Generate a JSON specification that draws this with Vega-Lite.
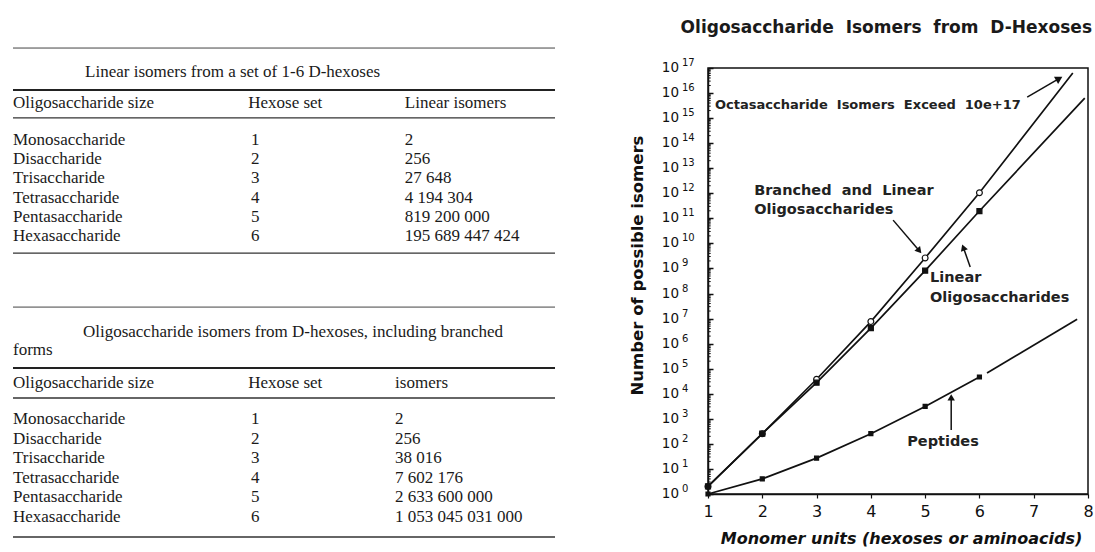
{
  "$schema": "https://vega.github.io/schema/vega-lite/v6.json",
  "padding": {"left": 12, "top": 18, "right": 0, "bottom": 0},
  "background": "white",
  "spacing": 153,
  "bounds": "flush",
  "config": {
    "view": {"stroke": null},
    "locale": {"number": {"decimal": ".", "thousands": " ", "grouping": [3], "currency": ["", ""]}}
  },
  "datasets": {
    "linearIsomers": [
      {"size": "Monosaccharide", "set": 1, "isomers": 2},
      {"size": "Disaccharide", "set": 2, "isomers": 256},
      {"size": "Trisaccharide", "set": 3, "isomers": 27648},
      {"size": "Tetrasaccharide", "set": 4, "isomers": 4194304},
      {"size": "Pentasaccharide", "set": 5, "isomers": 819200000},
      {"size": "Hexasaccharide", "set": 6, "isomers": 195689447424}
    ],
    "branchedIsomers": [
      {"size": "Monosaccharide", "set": 1, "isomers": 2},
      {"size": "Disaccharide", "set": 2, "isomers": 256},
      {"size": "Trisaccharide", "set": 3, "isomers": 38016},
      {"size": "Tetrasaccharide", "set": 4, "isomers": 7602176},
      {"size": "Pentasaccharide", "set": 5, "isomers": 2633600000},
      {"size": "Hexasaccharide", "set": 6, "isomers": 1053045031000}
    ],
    "curves": [
      {"series": "Branched and linear", "trace": "branched", "stage": "computed", "units": 1, "isomers": 2},
      {"series": "Branched and linear", "trace": "branched", "stage": "computed", "units": 2, "isomers": 256},
      {"series": "Branched and linear", "trace": "branched", "stage": "computed", "units": 3, "isomers": 38016},
      {"series": "Branched and linear", "trace": "branched", "stage": "computed", "units": 4, "isomers": 7602176},
      {"series": "Branched and linear", "trace": "branched", "stage": "computed", "units": 5, "isomers": 2633600000},
      {"series": "Branched and linear", "trace": "branched", "stage": "computed", "units": 6, "isomers": 1053045031000},
      {"series": "Branched and linear", "trace": "branched", "stage": "extrapolated", "units": 7.72, "isomers": 6.3e16},
      {"series": "Linear", "trace": "linear", "stage": "computed", "units": 1, "isomers": 2},
      {"series": "Linear", "trace": "linear", "stage": "computed", "units": 2, "isomers": 256},
      {"series": "Linear", "trace": "linear", "stage": "computed", "units": 3, "isomers": 27648},
      {"series": "Linear", "trace": "linear", "stage": "computed", "units": 4, "isomers": 4194304},
      {"series": "Linear", "trace": "linear", "stage": "computed", "units": 5, "isomers": 819200000},
      {"series": "Linear", "trace": "linear", "stage": "computed", "units": 6, "isomers": 195689447424},
      {"series": "Linear", "trace": "linear", "stage": "extrapolated", "units": 7.94, "isomers": 6.3e15},
      {"series": "Peptides", "trace": "peptides", "stage": "computed", "units": 1, "isomers": 1},
      {"series": "Peptides", "trace": "peptides", "stage": "computed", "units": 2, "isomers": 4},
      {"series": "Peptides", "trace": "peptides", "stage": "computed", "units": 3, "isomers": 27},
      {"series": "Peptides", "trace": "peptides", "stage": "computed", "units": 4, "isomers": 256},
      {"series": "Peptides", "trace": "peptides", "stage": "computed", "units": 5, "isomers": 3125},
      {"series": "Peptides", "trace": "peptides", "stage": "computed", "units": 6, "isomers": 46656},
      {"series": "Peptides", "trace": "peptides-extrapolated", "stage": "extrapolated", "units": 6.14, "isomers": 67000},
      {"series": "Peptides", "trace": "peptides-extrapolated", "stage": "extrapolated", "units": 7.8, "isomers": 9500000}
    ],
    "decades": [
      {"power": 0, "value": 1}, {"power": 1, "value": 1e1}, {"power": 2, "value": 1e2},
      {"power": 3, "value": 1e3}, {"power": 4, "value": 1e4}, {"power": 5, "value": 1e5},
      {"power": 6, "value": 1e6}, {"power": 7, "value": 1e7}, {"power": 8, "value": 1e8},
      {"power": 9, "value": 1e9}, {"power": 10, "value": 1e10}, {"power": 11, "value": 1e11},
      {"power": 12, "value": 1e12}, {"power": 13, "value": 1e13}, {"power": 14, "value": 1e14},
      {"power": 15, "value": 1e15}, {"power": 16, "value": 1e16}, {"power": 17, "value": 1e17}
    ],
    "minorTicks": [
      {"value": 2e0}, {"value": 3e0}, {"value": 4e0}, {"value": 5e0}, {"value": 6e0}, {"value": 7e0}, {"value": 8e0}, {"value": 9e0},
      {"value": 2e1}, {"value": 3e1}, {"value": 4e1}, {"value": 5e1}, {"value": 6e1}, {"value": 7e1}, {"value": 8e1}, {"value": 9e1},
      {"value": 2e2}, {"value": 3e2}, {"value": 4e2}, {"value": 5e2}, {"value": 6e2}, {"value": 7e2}, {"value": 8e2}, {"value": 9e2},
      {"value": 2e3}, {"value": 3e3}, {"value": 4e3}, {"value": 5e3}, {"value": 6e3}, {"value": 7e3}, {"value": 8e3}, {"value": 9e3},
      {"value": 2e4}, {"value": 3e4}, {"value": 4e4}, {"value": 5e4}, {"value": 6e4}, {"value": 7e4}, {"value": 8e4}, {"value": 9e4},
      {"value": 2e5}, {"value": 3e5}, {"value": 4e5}, {"value": 5e5}, {"value": 6e5}, {"value": 7e5}, {"value": 8e5}, {"value": 9e5},
      {"value": 2e6}, {"value": 3e6}, {"value": 4e6}, {"value": 5e6}, {"value": 6e6}, {"value": 7e6}, {"value": 8e6}, {"value": 9e6},
      {"value": 2e7}, {"value": 3e7}, {"value": 4e7}, {"value": 5e7}, {"value": 6e7}, {"value": 7e7}, {"value": 8e7}, {"value": 9e7},
      {"value": 2e8}, {"value": 3e8}, {"value": 4e8}, {"value": 5e8}, {"value": 6e8}, {"value": 7e8}, {"value": 8e8}, {"value": 9e8},
      {"value": 2e9}, {"value": 3e9}, {"value": 4e9}, {"value": 5e9}, {"value": 6e9}, {"value": 7e9}, {"value": 8e9}, {"value": 9e9},
      {"value": 2e10}, {"value": 3e10}, {"value": 4e10}, {"value": 5e10}, {"value": 6e10}, {"value": 7e10}, {"value": 8e10}, {"value": 9e10},
      {"value": 2e11}, {"value": 3e11}, {"value": 4e11}, {"value": 5e11}, {"value": 6e11}, {"value": 7e11}, {"value": 8e11}, {"value": 9e11},
      {"value": 2e12}, {"value": 3e12}, {"value": 4e12}, {"value": 5e12}, {"value": 6e12}, {"value": 7e12}, {"value": 8e12}, {"value": 9e12},
      {"value": 2e13}, {"value": 3e13}, {"value": 4e13}, {"value": 5e13}, {"value": 6e13}, {"value": 7e13}, {"value": 8e13}, {"value": 9e13},
      {"value": 2e14}, {"value": 3e14}, {"value": 4e14}, {"value": 5e14}, {"value": 6e14}, {"value": 7e14}, {"value": 8e14}, {"value": 9e14},
      {"value": 2e15}, {"value": 3e15}, {"value": 4e15}, {"value": 5e15}, {"value": 6e15}, {"value": 7e15}, {"value": 8e15}, {"value": 9e15},
      {"value": 2e16}, {"value": 3e16}, {"value": 4e16}, {"value": 5e16}, {"value": 6e16}, {"value": 7e16}, {"value": 8e16}, {"value": 9e16}
    ],
    "notes": [
      {"note": "Octasaccharide\u00a0 Isomers\u00a0 Exceed\u00a0 10e+17", "units": 1.13, "isomers": 3.3e15},
      {"note": "Branched\u00a0 and\u00a0 Linear", "units": 1.85, "isomers": 1.23e12},
      {"note": "Oligosaccharides", "units": 1.85, "isomers": 2.1e11},
      {"note": "Linear", "units": 5.09, "isomers": 4.2e8},
      {"note": "Oligosaccharides", "units": 5.09, "isomers": 6.6e7},
      {"note": "Peptides", "units": 4.67, "isomers": 120}
    ],
    "arrows": [
      {"arrow": "octasaccharide", "fromUnits": 6.88, "fromIsomers": 6.9e15, "toUnits": 7.45, "toIsomers": 3.6e16},
      {"arrow": "branched", "fromUnits": 4.41, "fromIsomers": 8.5e10, "toUnits": 4.88, "toIsomers": 5.5e9},
      {"arrow": "linear", "fromUnits": 5.83, "fromIsomers": 1.15e9, "toUnits": 5.71, "toIsomers": 6.3e9},
      {"arrow": "peptides", "fromUnits": 5.48, "fromIsomers": 355, "toUnits": 5.48, "toIsomers": 6500}
    ]
  },
  "hconcat": [
    {
      "width": 542,
      "height": 426,
      "layer": [
        {
          "data": {"name": "linearIsomers"},
          "layer": [
            {
              "mark": {"type": "text", "align": "left", "baseline": "middle", "font": "Liberation Serif", "fontSize": 17, "color": "#1a1a1a"},
              "encoding": {
                "x": {"datum": 0, "type": "quantitative", "scale": {"domain": [0, 100], "nice": false, "zero": false}, "axis": null},
                "y": {"field": "set", "type": "quantitative", "scale": {"domain": [1, 6], "range": [72, 168], "nice": false, "zero": false}, "axis": null},
                "text": {"field": "size", "type": "nominal"}
              }
            },
            {
              "mark": {"type": "text", "align": "left", "baseline": "middle", "font": "Liberation Serif", "fontSize": 17, "color": "#1a1a1a"},
              "encoding": {
                "x": {"datum": 43.9, "type": "quantitative", "axis": null},
                "y": {"field": "set", "type": "quantitative", "axis": null},
                "text": {"field": "set", "type": "quantitative"}
              }
            },
            {
              "mark": {"type": "text", "align": "left", "baseline": "middle", "font": "Liberation Serif", "fontSize": 17, "color": "#1a1a1a"},
              "encoding": {
                "x": {"datum": 72.3, "type": "quantitative", "axis": null},
                "y": {"field": "set", "type": "quantitative", "axis": null},
                "text": {"field": "isomers", "type": "quantitative", "format": ",d"}
              }
            },
            {
              "data": {"values": [{}]},
              "layer": [
                {"mark": {"type": "text", "align": "left", "baseline": "middle", "font": "Liberation Serif", "fontSize": 17, "color": "#1a1a1a", "text": "Linear isomers from a set of 1-6 D-hexoses"},
                 "encoding": {"x": {"datum": 13.3, "axis": null}, "y": {"datum": -2.54, "axis": null}}},
                {"mark": {"type": "text", "align": "left", "baseline": "middle", "font": "Liberation Serif", "fontSize": 17, "color": "#1a1a1a", "text": "Oligosaccharide size"},
                 "encoding": {"x": {"datum": 0, "axis": null}, "y": {"datum": -0.93, "axis": null}}},
                {"mark": {"type": "text", "align": "left", "baseline": "middle", "font": "Liberation Serif", "fontSize": 17, "color": "#1a1a1a", "text": "Hexose set"},
                 "encoding": {"x": {"datum": 43.4, "axis": null}, "y": {"datum": -0.93, "axis": null}}},
                {"mark": {"type": "text", "align": "left", "baseline": "middle", "font": "Liberation Serif", "fontSize": 17, "color": "#1a1a1a", "text": "Linear isomers"},
                 "encoding": {"x": {"datum": 72.3, "axis": null}, "y": {"datum": -0.93, "axis": null}}},
                {"mark": {"type": "rule", "color": "#444", "strokeWidth": 1},
                 "encoding": {"x": {"datum": 0, "axis": null}, "x2": {"datum": 100}, "y": {"datum": -3.79, "axis": null}}},
                {"mark": {"type": "rule", "color": "#222", "strokeWidth": 2},
                 "encoding": {"x": {"datum": 0, "axis": null}, "x2": {"datum": 100}, "y": {"datum": -1.6, "axis": null}}},
                {"mark": {"type": "rule", "color": "#333", "strokeWidth": 1.4},
                 "encoding": {"x": {"datum": 0, "axis": null}, "x2": {"datum": 100}, "y": {"datum": -0.15, "axis": null}}},
                {"mark": {"type": "rule", "color": "#333", "strokeWidth": 1.4},
                 "encoding": {"x": {"datum": 0, "axis": null}, "x2": {"datum": 100}, "y": {"datum": 6.89, "axis": null}}}
              ]
            }
          ]
        },
        {
          "data": {"name": "branchedIsomers"},
          "layer": [
            {
              "mark": {"type": "text", "align": "left", "baseline": "middle", "font": "Liberation Serif", "fontSize": 17, "color": "#1a1a1a"},
              "encoding": {
                "x": {"datum": 0, "type": "quantitative", "scale": {"domain": [0, 100], "nice": false, "zero": false}, "axis": null},
                "y": {"field": "set", "type": "quantitative", "scale": {"domain": [1, 6], "range": [351, 449], "nice": false, "zero": false}, "axis": null},
                "text": {"field": "size", "type": "nominal"}
              }
            },
            {
              "mark": {"type": "text", "align": "left", "baseline": "middle", "font": "Liberation Serif", "fontSize": 17, "color": "#1a1a1a"},
              "encoding": {
                "x": {"datum": 43.9, "type": "quantitative", "axis": null},
                "y": {"field": "set", "type": "quantitative", "axis": null},
                "text": {"field": "set", "type": "quantitative"}
              }
            },
            {
              "mark": {"type": "text", "align": "left", "baseline": "middle", "font": "Liberation Serif", "fontSize": 17, "color": "#1a1a1a"},
              "encoding": {
                "x": {"datum": 70.5, "type": "quantitative", "axis": null},
                "y": {"field": "set", "type": "quantitative", "axis": null},
                "text": {"field": "isomers", "type": "quantitative", "format": ",d"}
              }
            },
            {
              "data": {"values": [{}]},
              "layer": [
                {"mark": {"type": "text", "align": "left", "baseline": "middle", "font": "Liberation Serif", "fontSize": 17, "color": "#1a1a1a", "text": "Oligosaccharide isomers from D-hexoses, including branched"},
                 "encoding": {"x": {"datum": 12.9, "axis": null}, "y": {"datum": -3.44, "axis": null}}},
                {"mark": {"type": "text", "align": "left", "baseline": "middle", "font": "Liberation Serif", "fontSize": 17, "color": "#1a1a1a", "text": "forms"},
                 "encoding": {"x": {"datum": 0, "axis": null}, "y": {"datum": -2.52, "axis": null}}},
                {"mark": {"type": "text", "align": "left", "baseline": "middle", "font": "Liberation Serif", "fontSize": 17, "color": "#1a1a1a", "text": "Oligosaccharide size"},
                 "encoding": {"x": {"datum": 0, "axis": null}, "y": {"datum": -0.84, "axis": null}}},
                {"mark": {"type": "text", "align": "left", "baseline": "middle", "font": "Liberation Serif", "fontSize": 17, "color": "#1a1a1a", "text": "Hexose set"},
                 "encoding": {"x": {"datum": 43.4, "axis": null}, "y": {"datum": -0.84, "axis": null}}},
                {"mark": {"type": "text", "align": "left", "baseline": "middle", "font": "Liberation Serif", "fontSize": 17, "color": "#1a1a1a", "text": "isomers"},
                 "encoding": {"x": {"datum": 70.5, "axis": null}, "y": {"datum": -0.84, "axis": null}}},
                {"mark": {"type": "rule", "color": "#444", "strokeWidth": 1},
                 "encoding": {"x": {"datum": 0, "axis": null}, "x2": {"datum": 100}, "y": {"datum": -4.71, "axis": null}}},
                {"mark": {"type": "rule", "color": "#222", "strokeWidth": 2},
                 "encoding": {"x": {"datum": 0, "axis": null}, "x2": {"datum": 100}, "y": {"datum": -1.6, "axis": null}}},
                {"mark": {"type": "rule", "color": "#333", "strokeWidth": 1.4},
                 "encoding": {"x": {"datum": 0, "axis": null}, "x2": {"datum": 100}, "y": {"datum": -0.07, "axis": null}}},
                {"mark": {"type": "rule", "color": "#333", "strokeWidth": 1.4},
                 "encoding": {"x": {"datum": 0, "axis": null}, "x2": {"datum": 100}, "y": {"datum": 7.02, "axis": null}}}
              ]
            }
          ]
        }
      ],
      "resolve": {"scale": {"x": "independent", "y": "independent"}}
    },
    {
      "width": 380,
      "height": 426,
      "view": {"stroke": "#111", "strokeWidth": 1.5},
      "title": {
        "text": "Oligosaccharide\u00a0 Isomers\u00a0 from\u00a0 D-Hexoses",
        "anchor": "end",
        "frame": "group",
        "offset": 21,
        "dx": 4,
        "font": "DejaVu Sans",
        "fontSize": 17,
        "fontWeight": "bold",
        "color": "#1a1a1a"
      },
      "data": {"name": "curves"},
      "layer": [
        {
          "mark": {"type": "line", "color": "#111", "strokeWidth": 1.7},
          "encoding": {
            "x": {
              "field": "units", "type": "quantitative",
              "scale": {"domain": [1, 8], "nice": false, "zero": false},
              "axis": {
                "values": [1, 2, 3, 4, 5, 6, 7, 8], "format": "d",
                "grid": false, "domainColor": "#111", "domainWidth": 1.5,
                "tickColor": "#111", "tickWidth": 1.2, "tickSize": 4,
                "labelFont": "DejaVu Sans", "labelFontSize": 16, "labelColor": "#111", "labelPadding": 5, "labelFlush": false,
                "title": "Monomer units (hexoses or aminoacids)",
                "titleFont": "DejaVu Sans", "titleFontSize": 16, "titleFontWeight": "bold", "titleFontStyle": "italic", "titleColor": "#111",
                "titleX": 193, "titleY": 44, "titleAlign": "center", "titleBaseline": "middle"
              }
            },
            "y": {
              "field": "isomers", "type": "quantitative",
              "scale": {"type": "log", "domain": [1, 1e17], "nice": false},
              "axis": {
                "values": [1, 1e1, 1e2, 1e3, 1e4, 1e5, 1e6, 1e7, 1e8, 1e9, 1e10, 1e11, 1e12, 1e13, 1e14, 1e15, 1e16, 1e17],
                "grid": false, "domainColor": "#111", "domainWidth": 1.5,
                "tickColor": "#111", "tickWidth": 1.5, "tickSize": -5,
                "labels": false,
                "title": "Number of possible isomers",
                "titleFont": "DejaVu Sans", "titleFontSize": 16.5, "titleFontWeight": "bold", "titleColor": "#111",
                "titleAngle": 270, "titleX": -71, "titleY": 197, "titleAlign": "center", "titleBaseline": "middle"
              }
            },
            "detail": {"field": "trace", "type": "nominal"},
            "order": {"field": "units", "type": "quantitative"}
          }
        },
        {
          "data": {"name": "minorTicks"},
          "mark": {"type": "rule", "color": "#111", "strokeWidth": 1},
          "encoding": {
            "x": {"datum": 1},
            "x2": {"datum": 1.05},
            "y": {"field": "value", "type": "quantitative"}
          }
        },
        {
          "data": {"name": "decades"},
          "mark": {"type": "text", "align": "right", "baseline": "middle", "dx": -29, "font": "DejaVu Sans", "fontSize": 13.5, "color": "#111", "text": "10"},
          "encoding": {
            "x": {"datum": 1},
            "y": {"field": "value", "type": "quantitative"}
          }
        },
        {
          "data": {"name": "decades"},
          "mark": {"type": "text", "align": "left", "baseline": "middle", "dx": -26, "dy": -5, "font": "DejaVu Sans", "fontSize": 10, "color": "#111"},
          "encoding": {
            "x": {"datum": 1},
            "y": {"field": "value", "type": "quantitative"},
            "text": {"field": "power", "type": "quantitative"}
          }
        },
        {
          "transform": [{"filter": "datum.stage === 'computed'"}],
          "mark": {"type": "point", "filled": true, "stroke": "#111", "strokeWidth": 1.2, "opacity": 1},
          "encoding": {
            "x": {"field": "units", "type": "quantitative"},
            "y": {"field": "isomers", "type": "quantitative"},
            "shape": {"field": "series", "type": "nominal", "scale": {"domain": ["Branched and linear", "Linear", "Peptides"], "range": ["circle", "square", "square"]}, "legend": null},
            "fill": {"field": "series", "type": "nominal", "scale": {"domain": ["Branched and linear", "Linear", "Peptides"], "range": ["white", "#111", "#111"]}, "legend": null},
            "size": {"field": "series", "type": "nominal", "scale": {"domain": ["Branched and linear", "Linear", "Peptides"], "range": [34, 16, 20]}, "legend": null}
          }
        },
        {
          "data": {"name": "arrows"},
          "mark": {"type": "rule", "color": "#111", "strokeWidth": 1.5},
          "encoding": {
            "x": {"field": "fromUnits", "type": "quantitative"},
            "y": {"field": "fromIsomers", "type": "quantitative"},
            "x2": {"field": "toUnits"},
            "y2": {"field": "toIsomers"}
          }
        },
        {
          "data": {"name": "arrows"},
          "transform": [{"filter": "datum.arrow === 'octasaccharide'"}],
          "mark": {"type": "point", "shape": "triangle", "filled": true, "color": "#111", "opacity": 1, "size": 70, "angle": 60},
          "encoding": {"x": {"field": "toUnits", "type": "quantitative"}, "y": {"field": "toIsomers", "type": "quantitative"}}
        },
        {
          "data": {"name": "arrows"},
          "transform": [{"filter": "datum.arrow === 'branched'"}],
          "mark": {"type": "point", "shape": "triangle", "filled": true, "color": "#111", "opacity": 1, "size": 55, "angle": 140},
          "encoding": {"x": {"field": "toUnits", "type": "quantitative"}, "y": {"field": "toIsomers", "type": "quantitative"}}
        },
        {
          "data": {"name": "arrows"},
          "transform": [{"filter": "datum.arrow === 'linear'"}],
          "mark": {"type": "point", "shape": "triangle", "filled": true, "color": "#111", "opacity": 1, "size": 55, "angle": 340},
          "encoding": {"x": {"field": "toUnits", "type": "quantitative"}, "y": {"field": "toIsomers", "type": "quantitative"}}
        },
        {
          "data": {"name": "arrows"},
          "transform": [{"filter": "datum.arrow === 'peptides'"}],
          "mark": {"type": "point", "shape": "triangle", "filled": true, "color": "#111", "opacity": 1, "size": 55, "angle": 0},
          "encoding": {"x": {"field": "toUnits", "type": "quantitative"}, "y": {"field": "toIsomers", "type": "quantitative"}}
        },
        {
          "data": {"name": "notes"},
          "transform": [{"filter": "indexof(datum.note, 'Octa') === 0"}],
          "mark": {"type": "text", "align": "left", "baseline": "middle", "font": "DejaVu Sans", "fontSize": 13, "fontWeight": "bold", "color": "#222"},
          "encoding": {
            "x": {"field": "units", "type": "quantitative"},
            "y": {"field": "isomers", "type": "quantitative"},
            "text": {"field": "note", "type": "nominal"}
          }
        },
        {
          "data": {"name": "notes"},
          "transform": [{"filter": "indexof(datum.note, 'Octa') !== 0"}],
          "mark": {"type": "text", "align": "left", "baseline": "middle", "font": "DejaVu Sans", "fontSize": 14.5, "fontWeight": "bold", "color": "#222"},
          "encoding": {
            "x": {"field": "units", "type": "quantitative"},
            "y": {"field": "isomers", "type": "quantitative"},
            "text": {"field": "note", "type": "nominal"}
          }
        }
      ]
    }
  ]
}
